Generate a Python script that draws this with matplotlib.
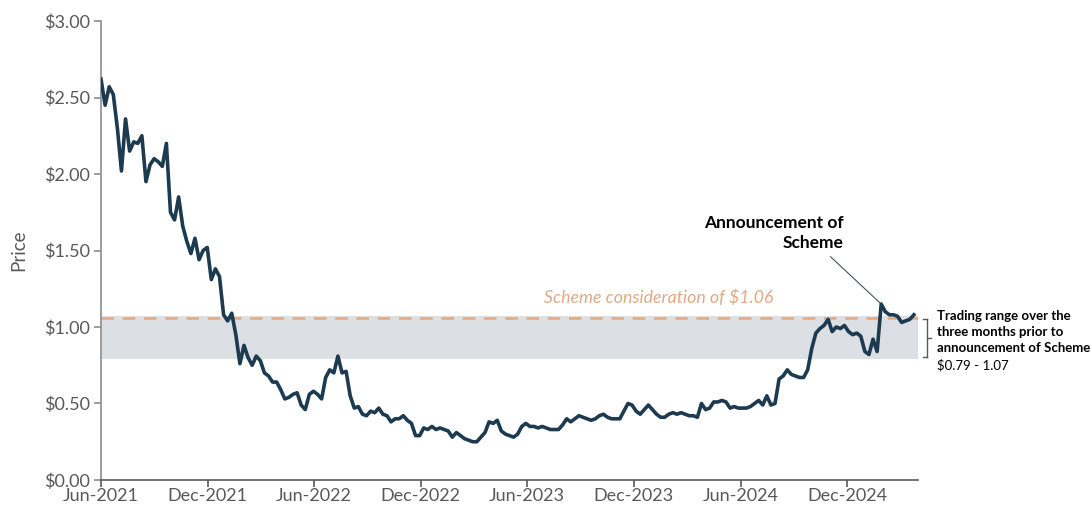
import matplotlib
matplotlib.use("Agg")
import matplotlib.pyplot as plt
from matplotlib.ticker import FuncFormatter
from matplotlib.lines import Line2D
import pandas as pd

plt.rcParams['font.family'] = ['Lato', 'DejaVu Sans']

# weekly closing prices from Jun-2021
prices = [
    2.62, 2.45, 2.57, 2.52, 2.30, 2.02, 2.36, 2.15, 2.21, 2.20,
    2.25, 1.95, 2.06, 2.10, 2.08, 2.05, 2.20, 1.75, 1.70, 1.85,
    1.66, 1.56, 1.48, 1.58, 1.44, 1.50, 1.52, 1.31, 1.38, 1.33,
    1.08, 1.04, 1.09, 0.95, 0.76, 0.88, 0.80, 0.75, 0.81, 0.78,
    0.70, 0.68, 0.64, 0.64, 0.59, 0.53, 0.54, 0.56, 0.57, 0.49,
    0.46, 0.56, 0.58, 0.56, 0.53, 0.67, 0.72, 0.70, 0.81, 0.70,
    0.71, 0.55, 0.47, 0.48, 0.43, 0.42, 0.45, 0.44, 0.47, 0.43,
    0.42, 0.38, 0.40, 0.40, 0.42, 0.39, 0.37, 0.29, 0.29, 0.34,
    0.33, 0.35, 0.33, 0.34, 0.33, 0.32, 0.28, 0.31, 0.29, 0.27,
    0.26, 0.25, 0.25, 0.28, 0.31, 0.38, 0.37, 0.39, 0.32, 0.30,
    0.29, 0.28, 0.30, 0.35, 0.37, 0.35, 0.35, 0.34, 0.35, 0.34,
    0.33, 0.33, 0.33, 0.36, 0.40, 0.38, 0.40, 0.42, 0.41, 0.40,
    0.39, 0.40, 0.42, 0.43, 0.41, 0.40, 0.40, 0.40, 0.45, 0.50,
    0.49, 0.45, 0.43, 0.46, 0.49, 0.46, 0.43, 0.41, 0.41, 0.43,
    0.44, 0.43, 0.44, 0.43, 0.42, 0.42, 0.41, 0.50, 0.46, 0.47,
    0.51, 0.51, 0.52, 0.51, 0.47, 0.48, 0.47, 0.47, 0.47, 0.48,
    0.50, 0.52, 0.49, 0.55, 0.49, 0.50, 0.66, 0.68, 0.72, 0.69,
    0.68, 0.67, 0.67, 0.72, 0.86, 0.96, 0.99, 1.01, 1.05, 0.97,
    1.00, 0.99, 1.01, 0.97, 0.95, 0.96, 0.94, 0.84, 0.82, 0.92,
    0.84, 1.15, 1.10, 1.08, 1.08, 1.07, 1.03, 1.04, 1.05, 1.08,
]
dates = pd.date_range("2021-06-01", periods=len(prices), freq="7D")

announce_idx = 191
consideration = 1.06
range_low, range_high = 0.79, 1.07

tick_dates = pd.to_datetime(["2021-06-01", "2021-12-01", "2022-06-01", "2022-12-01",
                             "2023-06-01", "2023-12-01", "2024-06-01", "2024-12-01"])
tick_labels = ["Jun-2021", "Dec-2021", "Jun-2022", "Dec-2022",
               "Jun-2023", "Dec-2023", "Jun-2024", "Dec-2024"]

navy = '#1c3a50'
peach = '#e2a983'
grey_txt = '#595959'

fig = plt.figure(figsize=(10.91, 5.09), dpi=100)
ax = fig.add_axes([0.0926, 0.057, 0.7488, 0.9017])

ax.axhspan(range_low, range_high, color='#dcdfe3', lw=0, zorder=1)
ax.axhline(consideration, color=peach, lw=1.8, dashes=(5, 3.5), zorder=2)
ax.plot(dates, prices, color=navy, lw=2.6, solid_joinstyle='round', zorder=3)

ax.set_xlim(pd.Timestamp("2021-06-01"), pd.Timestamp("2025-04-01"))
ax.set_ylim(0, 3)
ax.set_yticks([0, 0.5, 1.0, 1.5, 2.0, 2.5, 3.0])
ax.yaxis.set_major_formatter(FuncFormatter(lambda v, p: '$%.2f' % v))
ax.set_xticks(tick_dates)
ax.set_xticklabels(tick_labels)

ax.spines['top'].set_visible(False)
ax.spines['right'].set_visible(False)
ax.spines['left'].set_color('#8c8c8c')
ax.spines['bottom'].set_color('#595959')
ax.spines['left'].set_linewidth(1.2)
ax.spines['bottom'].set_linewidth(1.2)
ax.tick_params(axis='y', colors=grey_txt, labelsize=13, length=5, width=1.2,
               color='#8c8c8c', pad=3)
ax.tick_params(axis='x', colors=grey_txt, labelsize=13, length=5, width=1.2,
               color='#595959', pad=1)
ax.set_ylabel('Price', color=grey_txt, fontsize=13.5, labelpad=12)

# consideration label
ax.text(pd.Timestamp("2024-01-13"), 1.19, 'Scheme consideration of $1.06',
        color=peach, fontsize=12.8, style='italic', ha='center', va='center')

# announcement callout
ax.text(pd.Timestamp("2024-11-24"), 1.50, 'Announcement of\nScheme',
        fontsize=12.5, fontweight='bold', ha='right', va='bottom',
        linespacing=1.25, color='black')
ax.annotate('', xy=(dates[announce_idx], prices[announce_idx]),
            xytext=(pd.Timestamp("2024-11-02"), 1.46),
            arrowprops=dict(arrowstyle='-', color='#3d5466', lw=0.8,
                            shrinkA=0, shrinkB=1))

# bracket for trading range
W, H = 1091.0, 509.0
def fx(px):
    return px / W
def fy(py):
    return 1 - py / H

for seg in [((923, 927), (319, 319)), ((927, 927), (319, 357)),
            ((923, 927), (357, 357)), ((927, 931), (338, 338))]:
    fig.add_artist(Line2D([fx(seg[0][0]), fx(seg[0][1])],
                          [fy(seg[1][0]), fy(seg[1][1])],
                          color='#595959', lw=1.0))

fig.text(fx(937), fy(316), 'Trading range over the', fontsize=9.5,
         fontweight='bold', va='center', ha='left')
fig.text(fx(937), fy(332), 'three months prior to', fontsize=9.5,
         fontweight='bold', va='center', ha='left')
fig.text(fx(937), fy(348), 'announcement of Scheme', fontsize=9.5,
         fontweight='bold', va='center', ha='left')
fig.text(fx(937), fy(365), '$0.79 - 1.07', fontsize=9.5,
         va='center', ha='left')

fig.savefig('out.png', dpi=100)
